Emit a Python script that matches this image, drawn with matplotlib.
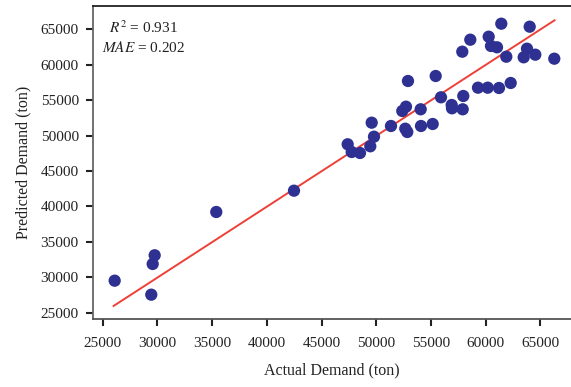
import matplotlib.pyplot as plt
import numpy as np

plt.rcParams['font.family'] = ['Liberation Serif', 'DejaVu Serif']
plt.rcParams['mathtext.fontset'] = 'stix'

# actual vs predicted demand (ton)
actual = np.array([61432, 64028, 58599, 60280, 60491, 61039, 57867, 63781, 61889, 63479,
                   64540, 66276, 52904, 55436, 55921, 57959, 59302, 60189, 61222, 62291,
                   56899, 56926, 57904, 52383, 52722, 54065, 49587, 51351, 52658, 52840,
                   54093, 55162, 49797, 47393, 47759, 48517, 49459, 42485, 35383, 29753,
                   29570, 26097, 29442])
predicted = np.array([65807, 65383, 63548, 63971, 62659, 62474, 61853, 62277, 61147, 61062,
                      61430, 60865, 57716, 58422, 55414, 55598, 56770, 56770, 56728, 57434,
                      54327, 53861, 53720, 53480, 54087, 53720, 51828, 51362, 50981, 50515,
                      51362, 51644, 49851, 48778, 47691, 47550, 48496, 42226, 39219, 33105,
                      31876, 29518, 27542])

fit_x = np.array([26000, 66300])
fit_y = np.array([25950, 66290])

ticks = np.arange(25000, 65001, 5000)

fig = plt.figure(figsize=(5.71, 3.87), dpi=100)
ax = fig.add_axes([0.1623, 0.175, 0.8377, 0.8095])

ax.scatter(actual, predicted, s=78, color='#2e3192', edgecolors='none', zorder=3)
ax.plot(fit_x, fit_y, color='#ee4036', linewidth=1.4, zorder=2)

ax.set_xlim(24086, 67803)
ax.set_ylim(24068, 68306)
ax.set_xticks(ticks)
ax.set_yticks(ticks)

ax.spines['right'].set_visible(False)
ax.spines['left'].set_color('#666666')
ax.spines['bottom'].set_color('#555555')
ax.spines['top'].set_color('#222222')
for s in ['left', 'bottom', 'top']:
    ax.spines[s].set_linewidth(1.3)

ax.tick_params(direction='out', length=5, width=1.5, color='#222222',
               labelsize=11, labelcolor='#222222')
ax.tick_params(axis='x', pad=8)
ax.tick_params(axis='y', pad=5)

ax.set_xlabel('Actual Demand (ton)', fontsize=11.5, color='#222222', labelpad=9)
ax.set_ylabel('Predicted Demand (ton)', fontsize=11.5, color='#222222', labelpad=7)

ax.text(0.107, 0.93, '$R^2$ = 0.931', transform=ax.transAxes, ha='center', va='center',
        fontsize=11, color='#222222')
ax.text(0.107, 0.866, '$MAE$ = 0.202', transform=ax.transAxes, ha='center', va='center',
        fontsize=11, color='#222222')

fig.savefig('out.png', dpi=100)
